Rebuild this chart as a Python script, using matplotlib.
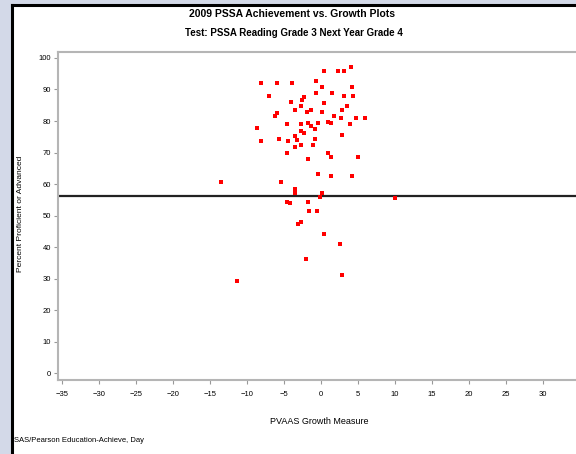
import matplotlib.pyplot as plt
from matplotlib.patches import Rectangle

# growth measure (x) vs percent proficient (y)
growth = [0.45, 2.34, 3.15, 4.05, -8.11, -5.95, -3.82, -0.58, 0.23, 4.28,
          -7.03, -0.58, 1.58, 3.15, 4.42, -2.26, -2.47, -4.05, 0.45, 3.61,
          -2.70, -3.51, -1.80, -1.26, 0.23, 2.93, -5.95, -6.18, 1.80, 2.70,
          4.82, 5.99, -4.50, -2.70, -1.72, -0.31, 0.99, 1.35, 3.96, -1.26,
          -0.81, -8.55, -2.70, -2.26, -3.47, 2.93, -8.11, -5.64, -4.36, -3.24,
          -0.81, -2.70, -3.51, -1.04, -4.59, 1.04, 1.35, 5.04, -1.66, -0.31,
          1.45, 4.28, -13.51, -5.41, -3.51, -3.51, 0.14, -0.09, -4.50, -4.15,
          -1.72, -1.58, -0.45, -2.70, -3.07, 0.45, 2.61, -1.93, 2.93, -11.35,
          10.0]
achievement = [96.0, 96.0, 96.0, 97.2, 92.0, 92.0, 92.0, 92.8, 90.7, 90.9,
               87.9, 88.8, 88.8, 88.0, 87.9, 87.7, 86.7, 86.1, 85.8, 84.8,
               84.8, 83.5, 82.8, 83.5, 82.8, 83.5, 82.4, 81.6, 81.6, 80.9,
               80.9, 80.9, 79.0, 79.0, 79.3, 79.5, 79.7, 79.5, 79.0, 78.5,
               77.5, 77.7, 76.9, 76.1, 75.3, 75.7, 73.7, 74.3, 73.7, 74.0,
               74.3, 72.4, 71.7, 72.4, 69.7, 69.7, 68.5, 68.5, 67.8, 63.2,
               62.5, 62.5, 60.5, 60.5, 58.3, 57.2, 57.0, 56.0, 54.4, 54.1,
               54.4, 51.4, 51.4, 47.8, 47.2, 44.1, 41.0, 36.2, 31.1, 29.2,
               55.6]
state_mean = 56.2

x_ticks = list(range(-35, 40, 5))
y_ticks = list(range(0, 101, 10))

plt.rcParams['font.family'] = ['Liberation Sans', 'DejaVu Sans']

W, H = 576, 454
fig = plt.figure(figsize=(W / 100, H / 100), dpi=100)
fig.patch.set_facecolor('#d3d9e8')

# white page with black edge on the left and top
fig.patches.append(Rectangle((13 / W, 0), 1, 1 - 6 / H, transform=fig.transFigure,
                             facecolor='white', edgecolor='none', zorder=-5))
fig.add_artist(plt.Line2D([11.5 / W, 11.5 / W], [0, 1 - 4.5 / H], color='black', lw=2.2, zorder=-4))
fig.add_artist(plt.Line2D([11.5 / W, 1], [1 - 4.5 / H, 1 - 4.5 / H], color='black', lw=2.2, zorder=-4))

# axes extend past the right edge like in the original
left, right, top, bottom = 58, 613, 52, 380
ax = fig.add_axes([left / W, 1 - bottom / H, (right - left) / W, (bottom - top) / H])
ax.set_zorder(1)
ax.scatter(growth, achievement, marker='s', s=9, color='red', linewidths=0, zorder=3)
ax.axhline(state_mean, color='#222222', lw=1.6, zorder=2)

ax.set_xlim(-35.5, 39.5)
ax.set_ylim(-2.2, 101.9)
ax.set_xticks(x_ticks)
ax.set_yticks(y_ticks)
ax.tick_params(axis='both', labelsize=5.5, color='#999999', length=3, width=0.8, pad=5)
ax.tick_params(axis='y', pad=2)
for s in ax.spines.values():
    s.set_color('#b5b5b5')
    s.set_linewidth(1.5)

ax.set_xlabel('PVAAS Growth Measure', fontsize=6.5)
ax.set_ylabel('Percent Proficient or Advanced', fontsize=6)
ax.xaxis.set_label_coords((319 - left) / (right - left), -(417 - bottom) / (bottom - top))
ax.yaxis.set_label_coords(-(left - 24) / (right - left), (bottom - 214) / (bottom - top))

fig.text(292 / W, 1 - 14 / H, '2009 PSSA Achievement vs. Growth Plots', ha='center', va='center',
         fontsize=7.5, fontweight='bold')
fig.text(294 / W, 1 - 33 / H, 'Test: PSSA Reading Grade 3 Next Year Grade 4', ha='center', va='center',
         fontsize=7, fontweight='bold')
fig.text(14 / W, 1 - 441 / H, 'SAS/Pearson Education-Achieve, Day', ha='left', va='center',
         fontsize=5.5)

fig.savefig('out.png', dpi=100, facecolor=fig.get_facecolor())
